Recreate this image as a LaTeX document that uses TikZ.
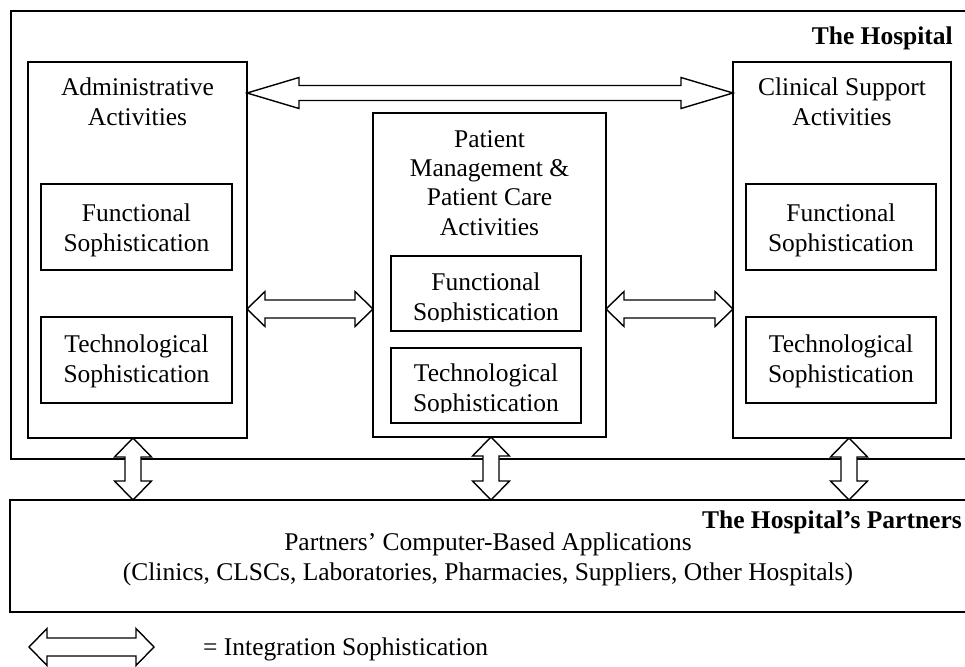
\documentclass[tikz,border=0pt]{standalone}
\usepackage{fontspec}
\setmainfont{Liberation Serif}
\usetikzlibrary{calc}
\tikzset{
  box/.style={draw, line width=1.5pt, inner sep=0pt, outer sep=0pt, anchor=north west},
  txt/.style={font=\fontsize{25.5}{29.3}\selectfont, align=center, inner sep=0pt},
  ttl/.style={font=\fontsize{25.5}{29.3}\selectfont\bfseries, inner sep=0pt, anchor=base east},
  blk/.style={draw, line width=1.4pt, fill=white, line join=miter},
}
% horizontal double block arrow: #1 left point, #2 right point, #3 head length, #4 head half width, #5 shaft half width
\newcommand\harr[5]{%
  \draw[blk] let \p1=(#1), \p2=(#2) in
    (\x1,\y1) -- (\x1+#3pt,\y1+#4pt) -- (\x1+#3pt,\y1+#5pt) -- (\x2-#3pt,\y1+#5pt)
    -- (\x2-#3pt,\y1+#4pt) -- (\x2,\y1) -- (\x2-#3pt,\y1-#4pt) -- (\x2-#3pt,\y1-#5pt)
    -- (\x1+#3pt,\y1-#5pt) -- (\x1+#3pt,\y1-#4pt) -- cycle;}
% vertical double block arrow: #1 top point, #2 bottom point
\newcommand\varr[5]{%
  \draw[blk] let \p1=(#1), \p2=(#2) in
    (\x1,\y1) -- (\x1+#4pt,\y1-#3pt) -- (\x1+#5pt,\y1-#3pt) -- (\x1+#5pt,\y2+#3pt)
    -- (\x1+#4pt,\y2+#3pt) -- (\x1,\y2) -- (\x1-#4pt,\y2+#3pt) -- (\x1-#5pt,\y2+#3pt)
    -- (\x1-#5pt,\y1-#3pt) -- (\x1-#4pt,\y1-#3pt) -- cycle;}
\begin{document}
\begin{tikzpicture}[x=1pt, y=-1pt]
\useasboundingbox (0,0) rectangle (965,666);
% outer boxes
\node[box, minimum width=975pt, minimum height=448pt] (hospital) at (11,11) {};
\node[box, minimum width=975pt, minimum height=112pt] (partner) at (10,500) {};
% activity boxes
\node[box, minimum width=219pt, minimum height=376pt] (admin) at (28,62) {};
\node[box, minimum width=191pt, minimum height=86pt] (adminF) at (41,184) {};
\node[box, minimum width=191pt, minimum height=86pt] (adminT) at (41,317) {};
\node[box, minimum width=233pt, minimum height=324pt] (mid) at (373,113) {};
\node[box, minimum width=190pt, minimum height=75pt] (midF) at (391,256) {};
\node[box, minimum width=190pt, minimum height=75pt] (midT) at (391,348) {};
\node[box, minimum width=218pt, minimum height=376pt] (clin) at (733,62) {};
\node[box, minimum width=190pt, minimum height=86pt] (clinF) at (746,184) {};
\node[box, minimum width=190pt, minimum height=86pt] (clinT) at (746,317) {};
% titles
\node[ttl] (hospT) at (953,45) {The Hospital};
\node[ttl] (partT) at (962,528) {The Hospital’s Partners};
% texts (anchor=base is the baseline of the last line)
\node[txt, anchor=base] (adminL) at (137.5,125) {Administrative\\Activities};
\node[txt, anchor=base] (adminFL) at (136.5,251) {Functional\\Sophistication};
\node[txt, anchor=base] (adminTL) at (136.5,382) {Technological\\Sophistication};
\node[txt, anchor=base] (midL) at (489.5,235) {Patient\\Management \&\\Patient Care\\Activities};
\begin{scope}
  \clip (391,256) rectangle (581,321.5);
  \node[txt, anchor=base] (midFL) at (486,320) {Functional\\Sophistication};
\end{scope}
\begin{scope}
  \clip (391,348) rectangle (581,412.5);
  \node[txt, anchor=base] (midTL) at (486,411) {Technological\\Sophistication};
\end{scope}
\node[txt, anchor=base] (clinL) at (842,125) {Clinical Support\\Activities};
\node[txt, anchor=base] (clinFL) at (841,251) {Functional\\Sophistication};
\node[txt, anchor=base] (clinTL) at (841,382) {Technological\\Sophistication};
\node[txt, anchor=base] (partL) at (488,580) {Partners’ Computer-Based Applications\\(Clinics, CLSCs, Laboratories, Pharmacies, Suppliers, Other Hospitals)};
% arrows
\coordinate (ya) at (0,93);
\coordinate (yb) at (0,309);
\coordinate (xa) at (133,0);
\coordinate (xb) at (491,0);
\coordinate (xc) at (849,0);
\harr{admin.east |- ya}{clin.west}{52}{15.5}{7.5}
\harr{admin.east |- yb}{mid.west}{18}{17.5}{9}
\harr{mid.east |- yb}{clin.west}{18}{17.5}{9}
\varr{xa |- admin.south}{partner.north}{19}{18.5}{8}
\varr{xb |- mid.south}{partner.north}{19}{18.5}{8}
\varr{xc |- clin.south}{partner.north}{19}{18.5}{8}
% legend
\coordinate (legL) at (29,647);
\coordinate (legR) at (154,647);
\harr{legL}{legR}{18}{18.5}{9}
\node[txt, anchor=base west] (legT) at (203,655) {= Integration Sophistication};
\end{tikzpicture}
\end{document}
